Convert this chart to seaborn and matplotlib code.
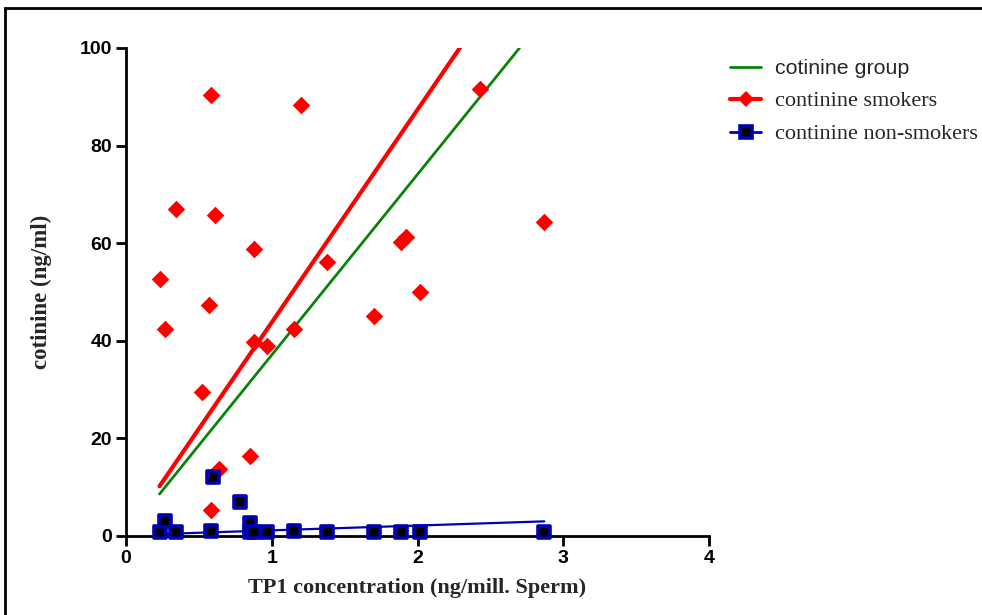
import matplotlib
matplotlib.use("Agg")
import matplotlib.pyplot as plt
import seaborn as sns
from matplotlib.lines import Line2D
from matplotlib.patches import Rectangle

# values
tp1_smokers = [0.23, 0.27, 0.34, 0.52, 0.58, 0.57, 0.58, 0.61, 0.64, 0.85, 0.88,
               0.88, 0.97, 1.15, 1.20, 1.38, 1.70, 1.89, 1.92, 2.02, 2.43, 2.87]
cot_smokers = [52.7, 42.4, 67.0, 29.5, 90.4, 47.3, 5.3, 65.8, 13.7, 16.4, 58.8,
               39.8, 38.9, 42.4, 88.3, 56.1, 45.1, 60.2, 61.3, 50.0, 91.6, 64.3]

tp1_nonsmokers = [0.23, 0.27, 0.34, 0.58, 0.60, 0.78, 0.85, 0.85, 0.88, 0.97,
                  1.15, 1.38, 1.70, 1.89, 2.02, 2.87]
cot_nonsmokers = [0.8, 3.1, 0.8, 1.0, 12.1, 7.0, 2.7, 0.8, 0.8, 0.8,
                  1.0, 0.8, 0.9, 0.8, 0.8, 0.8]

# fitted lines (end points)
fit_x_group = [0.23, 2.70]
fit_y_group = [8.6, 100.0]
fit_x_smokers = [0.23, 2.29]
fit_y_smokers = [10.2, 100.0]
fit_x_nonsmokers = [0.23, 2.87]
fit_y_nonsmokers = [0.4, 3.0]

x_ticks = [0, 1, 2, 3, 4]
y_ticks = [0, 20, 40, 60, 80, 100]

legend_labels = ["cotinine group", "continine smokers", "continine non-smokers"]

RED = "#ff0000"
GREEN = "#0a820a"
BLUE = "#0000b4"

sns.set_style("ticks")
plt.rcParams["font.family"] = ["Liberation Sans", "DejaVu Sans"]

fig = plt.figure(figsize=(9.82, 6.15), dpi=100)
ax = fig.add_axes([126 / 982, 1 - 536 / 615, (709 - 126) / 982, (536 - 48) / 615])

sns.lineplot(x=fit_x_group, y=fit_y_group, color=GREEN, lw=2, ax=ax)
sns.lineplot(x=fit_x_smokers, y=fit_y_smokers, color=RED, lw=3, ax=ax)
sns.lineplot(x=fit_x_nonsmokers, y=fit_y_nonsmokers, color=BLUE, lw=1.6, ax=ax)

sns.scatterplot(x=tp1_smokers, y=cot_smokers, marker="D", color=RED, s=80,
                linewidth=0, ax=ax, clip_on=False, zorder=4)
sns.scatterplot(x=tp1_nonsmokers, y=cot_nonsmokers, marker="s", color="black",
                edgecolor=BLUE, linewidth=2.6, s=75, ax=ax, clip_on=False, zorder=5)

ax.set_xlim(0, 4)
ax.set_ylim(0, 100)
ax.set_xticks(x_ticks)
ax.set_yticks(y_ticks)
ax.set_xticklabels([str(t) for t in x_ticks], fontsize=14, fontweight="bold")
ax.set_yticklabels([str(t) for t in y_ticks], fontsize=14, fontweight="bold")
ax.tick_params(direction="out", length=7, width=2, colors="black", pad=3)

for side in ["top", "right"]:
    ax.spines[side].set_visible(False)
for side in ["left", "bottom"]:
    ax.spines[side].set_linewidth(2)
    ax.spines[side].set_color("black")

ax.set_xlabel("TP1 concentration (ng/mill. Sperm)", family=["Liberation Serif"],
              fontsize=16, fontweight="bold", labelpad=8)
ax.set_ylabel("cotinine (ng/ml)", family=["Liberation Serif"],
              fontsize=16.5, fontweight="bold", labelpad=20)

handles = [
    Line2D([], [], color=GREEN, lw=2),
    Line2D([], [], color=RED, lw=3, marker="D", markersize=8, markeredgewidth=0),
    Line2D([], [], color=BLUE, lw=2, marker="s", markersize=8,
           markerfacecolor="black", markeredgecolor=BLUE, markeredgewidth=2.6),
]
leg = fig.legend(handles, legend_labels, loc="upper left",
                 bbox_to_anchor=(730 / 982, 1 - 59 / 615), frameon=False,
                 fontsize=15.4, handlelength=1.45, handletextpad=0.65,
                 labelspacing=0.62, borderpad=0, borderaxespad=0)
texts = leg.get_texts()
texts[0].set_family(["Liberation Sans", "DejaVu Sans"])
texts[1].set_family(["Liberation Serif", "DejaVu Serif"])
texts[2].set_family(["Liberation Serif", "DejaVu Serif"])
texts[1].set_fontsize(16)
texts[2].set_fontsize(16)

# frame round the picture
fig.add_artist(Rectangle((5 / 982, -0.05), 1.1, 1 - 8 / 615 + 0.05,
                         transform=fig.transFigure, fill=False, lw=2,
                         edgecolor="black"))

fig.savefig("out.png", dpi=100)
